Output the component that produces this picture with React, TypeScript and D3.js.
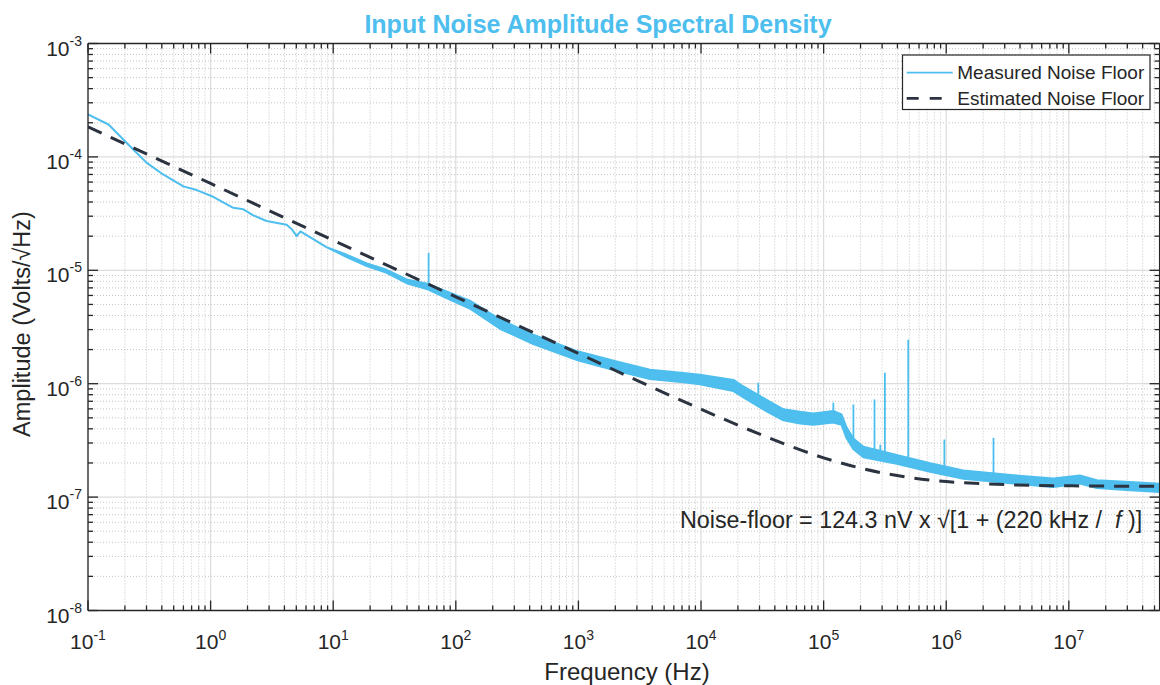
import React from 'react';
import * as d3 from 'd3';

// ---------- data ----------
const xTickExps = [-1, 0, 1, 2, 3, 4, 5, 6, 7];
const yTickExps = [-8, -7, -6, -5, -4, -3];

// measured noise floor: frequency (Hz), lower / upper edge of the trace (V/sqrt(Hz))
const measFreq = [
  0.1, 0.147, 0.22, 0.3, 0.41, 0.6, 0.77, 1.05, 1.53, 1.85, 2.23, 2.86, 4.17, 4.6, 5.03, 5.4, 6.88, 8.8,
  12.9, 18.8, 27.3, 39.7, 58.9, 84, 130, 229, 429, 1000, 2050, 3840, 7190, 9800,
  1.84e4, 2.2e4, 3.43e4, 4.7e4, 6.4e4, 8.24e4, 1.2e5, 1.4e5, 1.54e5, 1.75e5, 2.11e5,
  3.94e5, 7.4e5, 1.38e6, 3.53e6, 7.47e6, 1.23e7, 1.69e7, 3.15e7, 5.5e7,
];
const measLow = [
  2.37e-4, 1.93e-4, 1.24e-4, 8.9e-5, 7.0e-5, 5.5e-5, 5.1e-5, 4.45e-5, 3.56e-5, 3.45e-5, 3.05e-5, 2.72e-5, 2.52e-5, 2.3e-5, 2.0e-5, 2.2e-5, 1.88e-5, 1.6e-5,
  1.31e-5, 1.09e-5, 9.5e-6, 7.7e-6, 6.8e-6, 5.7e-6, 4.6e-6, 3.05e-6, 2.24e-6, 1.6e-6, 1.3e-6, 1.1e-6, 1.03e-6, 0.99e-6,
  8.6e-7, 7.6e-7, 5.7e-7, 4.75e-7, 4.45e-7, 4.35e-7, 4.55e-7, 4.35e-7, 3.3e-7, 2.65e-7, 2.25e-7,
  1.97e-7, 1.67e-7, 1.45e-7, 1.32e-7, 1.23e-7, 1.32e-7, 1.2e-7, 1.15e-7, 1.11e-7,
];
const measHigh = [
  2.37e-4, 1.93e-4, 1.24e-4, 8.9e-5, 7.0e-5, 5.5e-5, 5.1e-5, 4.45e-5, 3.56e-5, 3.45e-5, 3.05e-5, 2.72e-5, 2.52e-5, 2.3e-5, 2.0e-5, 2.2e-5, 1.88e-5, 1.6e-5,
  1.37e-5, 1.15e-5, 1.01e-5, 8.3e-6, 7.6e-6, 6.5e-6, 5.4e-6, 3.7e-6, 2.7e-6, 1.92e-6, 1.57e-6, 1.33e-6, 1.24e-6, 1.2e-6,
  1.08e-6, 9.5e-7, 7.2e-7, 5.95e-7, 5.65e-7, 5.45e-7, 5.75e-7, 5.35e-7, 4.1e-7, 3.28e-7, 2.78e-7,
  2.35e-7, 1.99e-7, 1.72e-7, 1.56e-7, 1.46e-7, 1.55e-7, 1.41e-7, 1.36e-7, 1.31e-7,
];

// narrow interference spikes on the measured trace
const spikeFreq = [60, 2.93e4, 1.2e5, 1.75e5, 2.6e5, 2.9e5, 3.16e5, 4.9e5, 9.66e5, 2.43e6];
const spikeBase = [7.2e-6, 7.0e-7, 5.1e-7, 3.0e-7, 2.5e-7, 2.4e-7, 2.35e-7, 2.1e-7, 1.7e-7, 1.5e-7];
const spikePeak = [1.43e-5, 1.02e-6, 6.8e-7, 6.56e-7, 7.26e-7, 2.9e-7, 1.25e-6, 2.45e-6, 3.22e-7, 3.33e-7];

// estimated noise floor (dashed curve)
const estFreq = [0.1, 1, 10, 100, 1e3, 3e3, 1e4, 2e4, 5e4, 1e5, 2e5, 5e5, 1e6, 2e6, 5e6, 1e7, 2e7, 5.5e7];
const estValue = [
  1.84e-4, 5.83e-5, 1.84e-5, 5.83e-6, 1.85e-6, 1.07e-6, 5.96e-7, 4.31e-7, 2.89e-7, 2.22e-7,
  1.8e-7, 1.49e-7, 1.37e-7, 1.31e-7, 1.27e-7, 1.257e-7, 1.25e-7, 1.246e-7,
];

const legendLabels = ['Measured Noise Floor', 'Estimated Noise Floor'];

// ---------- layout ----------
const W = 1160;
const H = 685;
const L = 88;
const R = 1159.6;
const T = 43.5;
const B = 610.5;
const BLUE = '#4DBEEE';
const DARK = '#2c3340';
const AX = '#262626';
const FONT = '"Liberation Sans", Arial, Helvetica, sans-serif';

const x = d3.scaleLog().domain([0.1, 5.5e7]).range([L, R]);
const y = d3.scaleLog().domain([1e-8, 1e-3]).range([B, T]);

function minorValues(exps: number[], max: number) {
  const out: number[] = [];
  for (let e = exps[0]; e <= exps[exps.length - 1]; e++) {
    for (let k = 2; k <= 9; k++) {
      const v = k * Math.pow(10, e);
      if (v < max) out.push(v);
    }
  }
  return out;
}

export default function App() {
  const xMinor = minorValues(xTickExps, 5.5e7);
  const yMinor = minorValues(yTickExps.slice(0, -1), 1e-3);
  const xMajor = xTickExps.map((e) => Math.pow(10, e));
  const yMajor = yTickExps.map((e) => Math.pow(10, e));

  const measIdx = d3.range(measFreq.length);
  const area = d3
    .area<number>()
    .x((i) => x(measFreq[i]))
    .y0((i) => y(measLow[i]))
    .y1((i) => y(measHigh[i]));
  const estLine = d3
    .line<number>()
    .x((i) => x(estFreq[i]))
    .y((i) => y(estValue[i]))
    .curve(d3.curveMonotoneX);

  return (
    <div style={{ position: 'absolute', left: 0, top: 0 }}>
      <svg width={W} height={H} style={{ display: 'block', background: '#fff' }} fontFamily={FONT}>
        <defs>
          <clipPath id="plotclip">
            <rect x={L} y={T} width={R - L} height={B - T} />
          </clipPath>
        </defs>
        <rect x={0} y={0} width={W} height={H} fill="#fff" />

        {/* grid */}
        <g>
          {xMinor.map((v, i) => (
            <line key={'xm' + i} x1={x(v)} x2={x(v)} y1={T} y2={B} stroke="#b5b5b5" strokeWidth={0.8} strokeDasharray="1,2" />
          ))}
          {yMinor.map((v, i) => (
            <line key={'ym' + i} x1={L} x2={R} y1={y(v)} y2={y(v)} stroke="#b5b5b5" strokeWidth={0.8} strokeDasharray="1,2" />
          ))}
          {xMajor.map((v, i) => (
            <line key={'xM' + i} x1={x(v)} x2={x(v)} y1={T} y2={B} stroke="#dcdcdc" strokeWidth={1.2} />
          ))}
          {yMajor.map((v, i) => (
            <line key={'yM' + i} x1={L} x2={R} y1={y(v)} y2={y(v)} stroke="#dcdcdc" strokeWidth={1.2} />
          ))}
        </g>

        {/* data */}
        <g clipPath="url(#plotclip)">
          <path d={area(measIdx) || ''} fill={BLUE} stroke={BLUE} strokeWidth={2} strokeLinejoin="round" />
          {spikeFreq.map((f, i) => (
            <line key={'sp' + i} x1={x(f)} x2={x(f)} y1={y(spikeBase[i])} y2={y(spikePeak[i])} stroke={BLUE} strokeWidth={1.8} />
          ))}
          <path d={estLine(d3.range(estFreq.length)) || ''} fill="none" stroke={DARK} strokeWidth={3} strokeDasharray="15,10" />
        </g>

        {/* axes box + ticks */}
        <g stroke={AX} strokeWidth={1.3}>
          <line x1={L} x2={R} y1={B} y2={B} />
          <line x1={L} x2={R} y1={T} y2={T} />
          <line x1={L} x2={L} y1={T} y2={B} />
          <line x1={R} x2={R} y1={T} y2={B} />
          {xMinor.map((v, i) => (
            <g key={'xt' + i}>
              <line x1={x(v)} x2={x(v)} y1={B} y2={B - 5} />
              <line x1={x(v)} x2={x(v)} y1={T} y2={T + 5} />
            </g>
          ))}
          {xMajor.map((v, i) => (
            <g key={'xT' + i}>
              <line x1={x(v)} x2={x(v)} y1={B} y2={B - 10} />
              <line x1={x(v)} x2={x(v)} y1={T} y2={T + 10} />
            </g>
          ))}
          {yMinor.map((v, i) => (
            <g key={'yt' + i}>
              <line x1={L} x2={L + 5} y1={y(v)} y2={y(v)} />
              <line x1={R} x2={R - 5} y1={y(v)} y2={y(v)} />
            </g>
          ))}
          {yMajor.map((v, i) => (
            <g key={'yT' + i}>
              <line x1={L} x2={L + 10} y1={y(v)} y2={y(v)} />
              <line x1={R} x2={R - 10} y1={y(v)} y2={y(v)} />
            </g>
          ))}
        </g>

        {/* tick labels */}
        <g fill={AX} fontSize={21}>
          {xTickExps.map((e) => (
            <text key={'xl' + e} x={x(Math.pow(10, e))} y={B + 38} textAnchor="middle">
              <tspan>10</tspan>
              <tspan fontSize={14} dy={-8.5}>{String(e)}</tspan>
            </text>
          ))}
          {yTickExps.map((e) => (
            <text key={'yl' + e} x={82} y={y(Math.pow(10, e)) + 12} textAnchor="end">
              <tspan>10</tspan>
              <tspan fontSize={14} dy={-10}>{String(e)}</tspan>
            </text>
          ))}
        </g>

        {/* axis labels and title */}
        <text x={627} y={680} textAnchor="middle" fontSize={24} fill={AX}>Frequency (Hz)</text>
        <text transform="translate(30,324) rotate(-90)" textAnchor="middle" fontSize={23.5} fill={AX}>Amplitude (Volts/√Hz)</text>
        <text x={598} y={33} textAnchor="middle" fontSize={25} fontWeight="bold" fill={BLUE}>Input Noise Amplitude Spectral Density</text>

        {/* annotation */}
        <text x={680} y={527.5} fontSize={23.3} fill={AX} xmlSpace="preserve">
          {'Noise-floor = 124.3 nV x √[1 + (220 kHz /\u00a0\u00a0'}
          <tspan fontStyle="italic">f</tspan>
          {'\u00a0)]'}
        </text>

        {/* legend */}
        <g>
          <rect x={902.5} y={55} width={247.5} height={54.5} fill="#fff" stroke={AX} strokeWidth={1.2} />
          <line x1={906.7} x2={952.7} y1={72.7} y2={72.7} stroke={BLUE} strokeWidth={1.8} />
          <line x1={906.7} x2={952.7} y1={98.3} y2={98.3} stroke={DARK} strokeWidth={2.8} strokeDasharray="12,11" />
          {legendLabels.map((lab, i) => (
            <text key={lab} x={957.3} y={72.7 + i * 25.6} dy="0.35em" fontSize={19} fill={AX}>{lab}</text>
          ))}
        </g>
      </svg>
    </div>
  );
}
